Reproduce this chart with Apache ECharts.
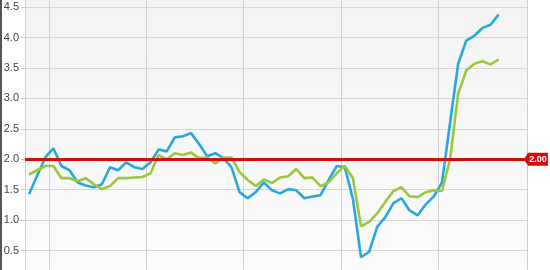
<!DOCTYPE html>
<html>
<head>
<meta charset="utf-8">
<script src="https://cdn.jsdelivr.net/npm/echarts@6/dist/echarts.min.js"></script>
<style>html,body{margin:0;padding:0;background:#fff}#c{width:550px;height:270px}</style>
</head>
<body>
<div id="c"></div>
<script>
var months = [
 '2007-10','2007-11','2007-12',
 '2008-01','2008-02','2008-03','2008-04','2008-05','2008-06','2008-07','2008-08','2008-09','2008-10','2008-11','2008-12',
 '2009-01','2009-02','2009-03','2009-04','2009-05','2009-06','2009-07','2009-08','2009-09','2009-10','2009-11','2009-12',
 '2010-01','2010-02','2010-03','2010-04','2010-05','2010-06','2010-07','2010-08','2010-09','2010-10','2010-11','2010-12',
 '2011-01','2011-02','2011-03','2011-04','2011-05','2011-06','2011-07','2011-08','2011-09','2011-10','2011-11','2011-12',
 '2012-01','2012-02','2012-03','2012-04','2012-05','2012-06','2012-07','2012-08','2012-09','2012-10','2012-11'
];
var blueValues = [1.43,1.73,2.03,2.18,1.89,1.82,1.62,1.57,1.54,1.59,1.87,1.82,1.95,1.87,1.84,1.95,2.16,2.13,2.36,2.38,2.43,2.25,2.05,2.10,2.02,1.87,1.46,1.36,1.46,1.62,1.49,1.44,1.51,1.49,1.36,1.39,1.41,1.66,1.89,1.87,1.35,0.39,0.48,0.89,1.05,1.28,1.36,1.16,1.08,1.26,1.39,1.62,2.60,3.57,3.95,4.03,4.16,4.21,4.38];
var greenValues = [1.75,1.82,1.89,1.89,1.69,1.69,1.64,1.69,1.59,1.51,1.56,1.69,1.69,1.70,1.71,1.77,2.07,2.00,2.10,2.07,2.11,2.02,2.03,1.93,2.03,2.03,1.79,1.66,1.56,1.67,1.61,1.70,1.72,1.84,1.69,1.70,1.56,1.62,1.77,1.89,1.69,0.90,0.97,1.11,1.30,1.48,1.54,1.39,1.38,1.46,1.49,1.48,2.00,3.08,3.46,3.57,3.61,3.56,3.64];
var targetValue = 2.0;
var targetLabel = '2.00';

var chart = echarts.init(document.getElementById('c'), null, {renderer: 'canvas'});
chart.setOption({
  animation: false,
  backgroundColor: '#ffffff',
  graphic: [{type: 'rect', left: 0, top: 0, shape: {width: 2, height: 270}, style: {fill: '#555'}, z: 100}],
  grid: {
    left: 25, right: 23, top: -5, bottom: -11,
    containLabel: false,
    outerBoundsMode: 'none',
    show: true, borderWidth: 0,
    backgroundColor: new echarts.graphic.LinearGradient(0, 0, 0, 1, [
      {offset: 0, color: '#f3f3f3'}, {offset: 1, color: '#fcfcfc'}
    ])
  },
  xAxis: {
    type: 'category',
    data: months,
    boundaryGap: true,
    axisLine: {show: false},
    axisTick: {show: false},
    axisLabel: {show: false},
    splitLine: {
      show: true,
      interval: function (idx, val) { return String(val).slice(5) === '01'; },
      lineStyle: {color: '#cfcfcf', width: 1}
    }
  },
  yAxis: {
    type: 'value',
    min: 0, max: 4.7, interval: 0.5,
    axisLine: {show: true, lineStyle: {color: '#d0d0d0'}},
    axisTick: {show: true, length: 4, lineStyle: {color: '#c8c8c8'}},
    axisLabel: {
      margin: 6, color: '#444', fontSize: 11, fontFamily: 'Liberation Sans, Arial, sans-serif',
      showMaxLabel: false,
      formatter: function (v) { return v.toFixed(1); }
    },
    splitLine: {show: true, lineStyle: {color: '#d6d6d6', width: 1}}
  },
  series: [
    {
      type: 'line', name: 'blue', data: blueValues,
      showSymbol: false, symbol: 'none',
      lineStyle: {color: '#27a8dc', width: 2.6},
      itemStyle: {color: '#27a8dc'},
      z: 2
    },
    {
      type: 'line', name: 'green', data: greenValues,
      showSymbol: false, symbol: 'none',
      lineStyle: {color: '#9dc63f', width: 2.6},
      itemStyle: {color: '#9dc63f'},
      z: 3,
      markLine: {
        silent: true, symbol: 'none',
        lineStyle: {color: '#d40c0c', width: 3, type: 'solid'},
        label: {show: false},
        data: [{yAxis: targetValue}],
        z: 10
      },
      markPoint: {
        silent: true,
        symbol: 'path://M0,6 L5,0 L30,0 L30,12 L5,12 Z',
        symbolSize: [24, 13],
        symbolKeepAspect: false,
        symbolOffset: [13, 0],
        itemStyle: {color: '#d40c0c'},
        label: {show: true, formatter: targetLabel, color: '#fff', fontSize: 9, fontWeight: 'bold', fontFamily: 'Liberation Sans, Arial, sans-serif', offset: [2, 0]},
        data: [{coord: [months.length - 1, targetValue]}],
        z: 11
      }
    }
  ]
});
</script>
</body>
</html>
